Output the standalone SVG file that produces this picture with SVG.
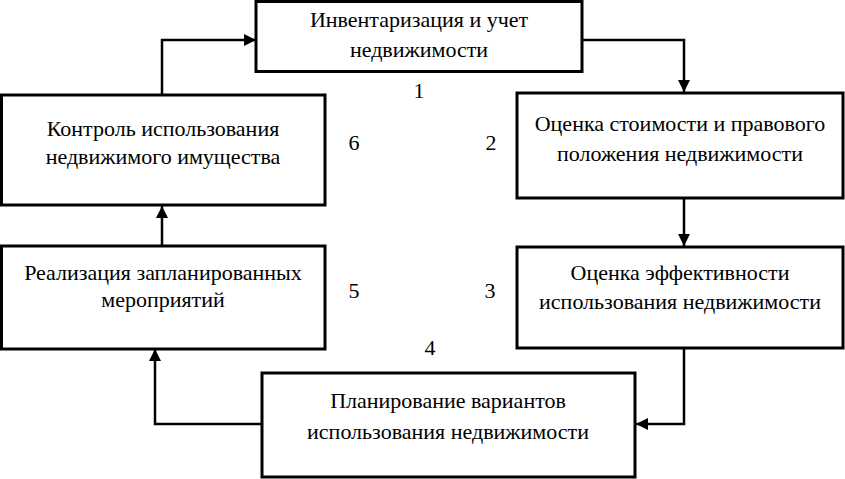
<svg xmlns="http://www.w3.org/2000/svg" width="845" height="479" viewBox="0 0 845 479">
<defs>
<marker id="ah" markerUnits="userSpaceOnUse" markerWidth="12" markerHeight="12" viewBox="0 0 12 12" refX="12" refY="6" orient="auto">
<path d="M0,0 L12,6 L0,12 Z" fill="#000"/>
</marker>
</defs>
<style>
.box{fill:#fff;stroke:#000;stroke-width:3}
.t{font-family:'Liberation Serif', 'DejaVu Serif', serif;font-size:22px;fill:#000;text-anchor:middle}
.c{fill:none;stroke:#000;stroke-width:2.5;marker-end:url(#ah)}
</style>
<rect width="845" height="479" fill="#fff"/>
<g id="connectors">
<path class="c" d="M162,95 V40 H256"/>
<path class="c" d="M582,40 H684 V92"/>
<path class="c" d="M684,198 V246"/>
<path class="c" d="M684,348 V424 H636"/>
<path class="c" d="M262,424 H155 V349"/>
<path class="c" d="M162,246 V206"/>
</g>
<g id="node1">
<rect class="box" x="256" y="1.5" width="326" height="70"/>
<text class="t" font-family="Liberation Serif" x="419" y="27">Инвентаризация и учет</text>
<text class="t" font-family="Liberation Serif" x="419" y="57">недвижимости</text>
</g>
<g id="node2">
<rect class="box" x="517" y="93" width="326" height="105"/>
<text class="t" x="680" y="131">Оценка стоимости и правового</text>
<text class="t" x="680" y="161">положения недвижимости</text>
</g>
<g id="node3">
<rect class="box" x="517" y="247" width="326" height="101"/>
<text class="t" x="680" y="280">Оценка эффективности</text>
<text class="t" x="680" y="309">использования недвижимости</text>
</g>
<g id="node4">
<rect class="box" x="262" y="373" width="373" height="104"/>
<text class="t" x="448" y="408">Планирование вариантов</text>
<text class="t" x="448" y="439">использования недвижимости</text>
</g>
<g id="node5">
<rect class="box" x="1.5" y="246" width="323.5" height="103"/>
<text class="t" x="163" y="280">Реализация запланированных</text>
<text class="t" x="163" y="307">мероприятий</text>
</g>
<g id="node6">
<rect class="box" x="1.5" y="95" width="323.5" height="110"/>
<text class="t" x="163" y="136">Контроль использования</text>
<text class="t" x="163" y="164">недвижимого имущества</text>
</g>
<g id="numbers">
<text class="t" x="419" y="98">1</text>
<text class="t" x="491" y="150">2</text>
<text class="t" x="490" y="298">3</text>
<text class="t" x="430" y="355">4</text>
<text class="t" x="354" y="298">5</text>
<text class="t" x="354" y="150">6</text>
</g>
</svg>
